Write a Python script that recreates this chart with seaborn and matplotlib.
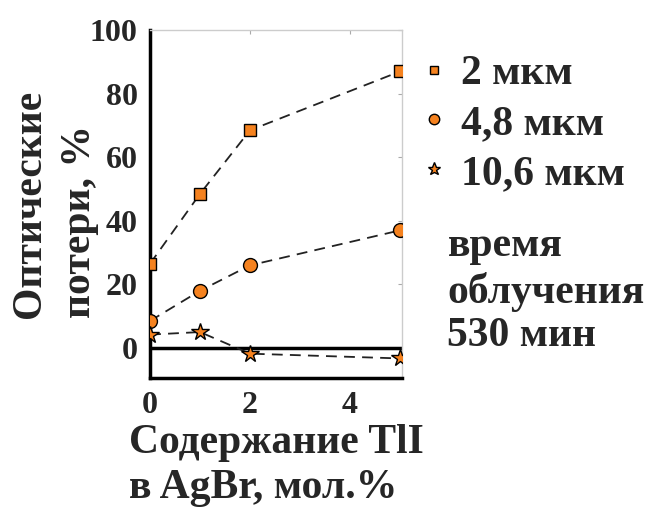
import numpy as np
import pandas as pd
import matplotlib
matplotlib.use('Agg')
import matplotlib.pyplot as plt
import seaborn as sns
from matplotlib.lines import Line2D

# data
tli = [0, 1, 2, 5]
loss_2 = [26.5, 48.5, 68.5, 87]
loss_48 = [8.5, 18, 26, 37]
loss_106 = [4.2, 5, -1.8, -3.3]
labels = ['2 мкм', '4,8 мкм', '10,6 мкм']
markers = ['s', 'o', '*']
msizes = [8, 10, 13]

sns.set_style('white')
plt.rcParams['font.family'] = ['Liberation Serif', 'DejaVu Serif']
plt.rcParams['font.weight'] = 'bold'

orange = '#f5821f'
fig = plt.figure(figsize=(6.58, 5.11), dpi=100)
ax = fig.add_axes([0.228, 0.260, 0.383, 0.681])

ax.axhline(0, color='black', lw=2.5, zorder=1)
for vals, m, s in zip([loss_2, loss_48, loss_106], markers, msizes):
    df = pd.DataFrame({'x': tli, 'y': vals})
    sns.lineplot(data=df, x='x', y='y', ax=ax, color='#222222', lw=1.3,
                 linestyle=(0, (6, 4)), marker=m, markersize=s,
                 markerfacecolor=orange, markeredgecolor='black',
                 markeredgewidth=1.0, zorder=3)

ax.set_xlim(0, 5.04)
ax.set_ylim(-9.5, 100)
ax.set_xticks([0, 2, 4])
ax.set_yticks([0, 20, 40, 60, 80, 100])
ax.tick_params(labelsize=23, direction='in', length=3, color='#aaaaaa',
               top=True, right=True, pad=9)
for t in ax.get_xticklabels() + ax.get_yticklabels():
    t.set_fontweight('bold')
for side in ['left', 'bottom']:
    ax.spines[side].set_color('black')
    ax.spines[side].set_linewidth(2.5)
for side in ['top', 'right']:
    ax.spines[side].set_color('#cccccc')
    ax.spines[side].set_linewidth(1)

ax.set_xlabel('Содержание TlI\nв AgBr, мол.%', fontsize=30, fontweight='bold',
              multialignment='left', labelpad=3, linespacing=1.26)
ax.set_ylabel('Оптические\nпотери, %', fontsize=30, fontweight='bold',
              multialignment='left', labelpad=-7, linespacing=1.42)

handles = [Line2D([], [], ls='none', marker=m, markersize=s * 0.75,
                  markerfacecolor=orange, markeredgecolor='black',
                  markeredgewidth=1.0) for m, s in zip(markers, msizes)]
fig.legend(handles, labels, loc='upper left', bbox_to_anchor=(0.615, 0.925),
           frameon=False, prop={'size': 30, 'weight': 'bold'},
           handlelength=0.6, handletextpad=0.35, labelspacing=0.28,
           borderaxespad=0)

fig.text(0.68, 0.555, 'время\nоблучения\n530 мин', fontsize=30,
         fontweight='bold', va='top', ha='left', linespacing=1.2)

fig.savefig('out.png', dpi=100)
